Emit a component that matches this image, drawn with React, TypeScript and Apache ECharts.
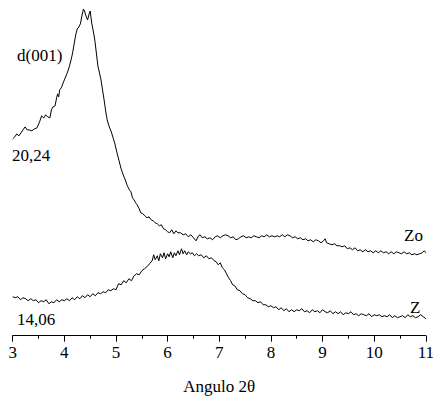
import React, { useEffect, useRef } from "react";
import * as echarts from "echarts";

const zoAngle = [3.00,3.04,3.08,3.12,3.16,3.20,3.24,3.28,3.32,3.37,3.42,3.47,3.52,3.56,3.60,3.64,3.68,3.72,3.75,3.78,3.82,3.85,3.87,3.89,3.91,3.94,3.97,4.00,4.04,4.07,4.10,4.13,4.16,4.19,4.22,4.25,4.28,4.31,4.34,4.37,4.39,4.42,4.45,4.48,4.50,4.53,4.56,4.59,4.62,4.65,4.68,4.71,4.74,4.77,4.80,4.83,4.87,4.91,4.95,4.98,5.02,5.06,5.10,5.14,5.18,5.22,5.26,5.29,5.32,5.35,5.38,5.41,5.45,5.48,5.52,5.56,5.60,5.64,5.68,5.72,5.76,5.80,5.84,5.88,5.92,5.96,6.00,6.04,6.08,6.12,6.16,6.20,6.25,6.30,6.35,6.40,6.45,6.50,6.55,6.60,6.63,6.67,6.72,6.77,6.82,6.87,6.92,6.97,7.02,7.07,7.12,7.17,7.22,7.27,7.32,7.37,7.42,7.47,7.52,7.57,7.62,7.67,7.72,7.77,7.82,7.87,7.92,7.97,8.02,8.07,8.12,8.17,8.22,8.27,8.32,8.37,8.42,8.47,8.52,8.57,8.62,8.67,8.72,8.77,8.82,8.87,8.92,8.97,9.02,9.05,9.08,9.13,9.18,9.23,9.28,9.33,9.38,9.43,9.48,9.53,9.58,9.63,9.68,9.73,9.78,9.83,9.88,9.93,9.98,10.03,10.08,10.13,10.18,10.23,10.28,10.33,10.38,10.43,10.48,10.53,10.58,10.63,10.68,10.73,10.78,10.83,10.88,10.93,10.97,11.00];
const zoIntensity = [197,199,202,200,203,206,209,206,206,205,207,208,214,220,218,221,219,218,226,229,230,238,242,239,246,248,252,256,261,265,270,276,283,292,301,307,309,312,320,327,325,320,316,322,325,313,305,296,283,270,263,256,246,236,225,216,209,204,197,192,183,175,167,161,156,150,146,144,138,136,133,131,127,123,122,120,118,119,116,115,113,112,110,111,107,106,104,103,106,102,105,103,103,101,102,99,101,98,95,100,101,98,99,97,98,96,99,100,98,100,101,100,98,99,96,97,99,100,98,99,98,100,99,98,100,99,101,99,100,99,100,99,101,99,101,100,98,99,97,98,96,97,95,96,94,96,95,93,95,97,93,92,91,92,90,90,89,90,87,88,86,88,85,86,84,86,84,85,83,85,83,85,83,84,82,84,82,84,83,82,84,82,83,81,82,81,82,83,85,83];

const zAngle = [3.00,3.05,3.10,3.15,3.20,3.25,3.30,3.35,3.40,3.45,3.50,3.55,3.60,3.65,3.70,3.75,3.80,3.85,3.90,3.95,4.00,4.05,4.10,4.15,4.20,4.25,4.30,4.35,4.40,4.45,4.50,4.55,4.60,4.65,4.70,4.75,4.80,4.85,4.90,4.95,5.00,5.05,5.10,5.15,5.20,5.25,5.30,5.35,5.40,5.45,5.50,5.55,5.60,5.65,5.70,5.73,5.76,5.80,5.83,5.86,5.90,5.93,5.96,6.00,6.03,6.06,6.10,6.13,6.16,6.20,6.23,6.27,6.30,6.33,6.37,6.40,6.44,6.48,6.52,6.56,6.60,6.65,6.70,6.75,6.80,6.85,6.90,6.94,6.98,7.02,7.06,7.10,7.14,7.18,7.22,7.26,7.30,7.35,7.40,7.45,7.50,7.55,7.60,7.65,7.70,7.75,7.80,7.85,7.90,7.95,8.00,8.05,8.10,8.15,8.20,8.25,8.30,8.35,8.40,8.45,8.50,8.55,8.60,8.65,8.70,8.75,8.80,8.85,8.90,8.95,9.00,9.05,9.10,9.15,9.20,9.25,9.30,9.35,9.40,9.45,9.50,9.55,9.60,9.65,9.70,9.75,9.80,9.85,9.90,9.95,10.00,10.05,10.10,10.15,10.20,10.25,10.30,10.35,10.40,10.45,10.50,10.55,10.60,10.65,10.70,10.75,10.80,10.85,10.90,10.95,11.00];
const zIntensity = [39,38,39,36,38,37,35,37,35,36,33,35,34,36,32,34,33,36,34,36,35,37,35,38,36,39,37,40,38,41,39,42,40,43,42,44,43,46,45,47,46,52,51,55,53,57,55,60,62,61,65,67,69,72,75,81,76,80,75,82,78,83,77,82,79,84,78,83,80,85,81,87,82,85,81,84,82,83,80,82,80,81,78,80,77,78,75,74,71,73,68,66,62,58,55,51,50,46,45,42,41,38,37,35,35,33,34,31,31,29,30,28,29,26,28,25,27,24,26,24,26,25,27,24,25,23,26,24,25,23,26,24,23,25,22,24,22,24,21,23,22,24,21,22,20,22,21,20,22,19,21,20,21,19,20,19,21,18,20,18,19,20,18,21,19,20,18,19,21,19,17];

const xTicks = [3, 4, 5, 6, 7, 8, 9, 10, 11];
const labelTexts = { peak: "d(001)", zoSpacing: "20,24", zSpacing: "14,06", zoName: "Zo", zName: "Z" };

const FONT = "Liberation Serif";

export default function App() {
  const ref = useRef<HTMLDivElement>(null);
  useEffect(() => {
    if (!ref.current) return;
    const chart = echarts.init(ref.current, null, { renderer: "svg" });
    const zoData = zoAngle.map((a, i) => [a, zoIntensity[i]]);
    const zData = zAngle.map((a, i) => [a, zIntensity[i]]);
    const txt = (text: string, x: number, y: number) => ({
      type: "text",
      x,
      y,
      style: { text, fontFamily: FONT, fontSize: 17, fill: "#000", verticalAlign: "middle" },
    });
    chart.setOption({
      animation: false,
      backgroundColor: "#fff",
      textStyle: { fontFamily: FONT },
      grid: { left: 12.7, right: 7.7, top: 0, bottom: 64.3 },
      xAxis: {
        type: "value",
        min: xTicks[0],
        max: xTicks[xTicks.length - 1],
        interval: 1,
        name: "Angulo 2θ",
        nameLocation: "middle",
        nameGap: 42,
        nameTextStyle: { fontFamily: FONT, fontSize: 17, color: "#000" },
        axisLine: { show: true, lineStyle: { color: "#000", width: 1 } },
        axisTick: { show: true, inside: false, length: 6, lineStyle: { color: "#000" } },
        minorTick: { show: true, splitNumber: 2, length: 3, lineStyle: { color: "#000" } },
        axisLabel: { fontFamily: FONT, fontSize: 17, color: "#000", margin: 8 },
        splitLine: { show: false },
      },
      yAxis: { type: "value", min: 0, max: 336, show: false, splitLine: { show: false } },
      series: [
        { type: "line", data: zoData, symbol: "none", lineStyle: { color: "#000", width: 1 } },
        { type: "line", data: zData, symbol: "none", lineStyle: { color: "#000", width: 1 } },
      ],
      graphic: [
        txt(labelTexts.peak, 17, 55),
        txt(labelTexts.zoSpacing, 12, 155),
        txt(labelTexts.zSpacing, 17, 319),
        txt(labelTexts.zoName, 404, 235),
        txt(labelTexts.zName, 410, 307),
      ],
    });
    return () => chart.dispose();
  }, []);
  return <div ref={ref} style={{ width: 437, height: 400, position: "absolute", left: 0, top: 0 }} />;
}
